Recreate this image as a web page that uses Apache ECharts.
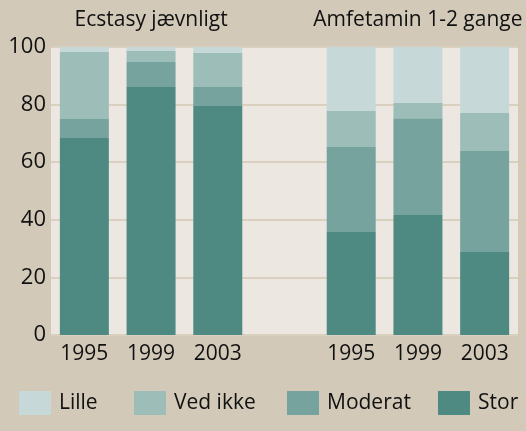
<!DOCTYPE html>
<html>
<head>
<meta charset="utf-8">
<title>Ecstasy / Amfetamin</title>
<script src="https://cdn.jsdelivr.net/npm/echarts@6/dist/echarts.min.js"></script>
<style>
  html, body { margin: 0; padding: 0; background: #d2c9b8; }
  #main { width: 526px; height: 431px; }
</style>
</head>
<body>
<div id="main"></div>
<script>
// kategorier: to grupper med et tomt felt imellem
const years = ['1995', '1999', '2003', '', '1995', '1999', '2003'];
const groupTitles = ['Ecstasy jævnligt', 'Amfetamin 1-2 gange'];

// serier (procent)
const stor    = [68.4, 86.1, 79.5, null, 35.8, 41.7, 28.8];
const moderat = [6.6,  8.7,  6.6,  null, 29.5, 33.6, 35.1];
const vedIkke = [23.3, 3.8,  11.8, null, 12.5, 5.3,  13.2];
const lille   = [1.7,  1.4,  2.4,  null, 22.2, 19.7, 22.9];

const seriesNames = ['Lille', 'Ved ikke', 'Moderat', 'Stor'];
const colors = {
  'Lille': '#c6d9d8',
  'Ved ikke': '#9dbdb8',
  'Moderat': '#77a39e',
  'Stor': '#4f8a82'
};

const font = 'Open Sans';
const chart = echarts.init(document.getElementById('main'));

function bar(name, data) {
  return {
    name,
    type: 'bar',
    stack: 'total',
    barWidth: 49,
    data,
    itemStyle: { color: colors[name] },
    emphasis: { disabled: true }
  };
}

// en legend per element, så placeringen passer med originalen
const legendLeft = [19, 134, 287, 438];
const legends = seriesNames.map((n, i) => ({
  data: [n],
  left: legendLeft[i],
  top: 391,
  padding: 0,
  itemWidth: 32,
  itemHeight: 24,
  icon: 'rect',
  selectedMode: false,
  textStyle: { fontFamily: font, fontSize: 21, color: '#111', padding: [0, 0, 0, 3] }
}));

chart.setOption({
  backgroundColor: '#d2c9b8',
  animation: false,
  legend: legends,
  grid: {
    left: 51, right: 8, top: 47, bottom: 96,
    show: true, backgroundColor: '#ece7e0', borderWidth: 0
  },
  xAxis: {
    type: 'category',
    data: years,
    axisLine: { show: false },
    axisTick: { show: false },
    axisLabel: { fontFamily: font, fontSize: 21, color: '#111', margin: 9 }
  },
  yAxis: {
    type: 'value',
    min: 0, max: 100, interval: 20,
    axisLine: { show: false },
    axisTick: { show: false },
    axisLabel: { fontFamily: font, fontSize: 22, color: '#111', margin: 5 },
    splitLine: { lineStyle: { color: '#d9d0bf', width: 2 } }
  },
  series: [
    bar('Stor', stor),
    bar('Moderat', moderat),
    bar('Ved ikke', vedIkke),
    bar('Lille', lille)
  ]
});

// gruppetitler centreret over midterste søjle i hver gruppe
const titleX = [1, 5].map(i => chart.convertToPixel({ xAxisIndex: 0 }, i));
chart.setOption({
  graphic: groupTitles.map((t, i) => ({
    type: 'text',
    x: titleX[i],
    y: 20,
    style: {
      text: t,
      fill: '#111',
      font: '21px "' + font + '"',
      textAlign: 'center',
      textVerticalAlign: 'middle'
    }
  }))
});
</script>
</body>
</html>
